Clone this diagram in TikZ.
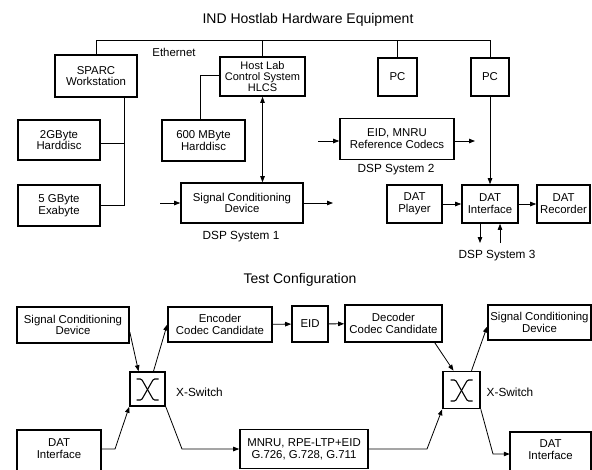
\documentclass[tikz,border=0pt]{standalone}
\usepackage{fontspec}
\setmainfont{Liberation Sans}
\usetikzlibrary{arrows.meta}
\begin{document}
\begin{tikzpicture}[x=1pt,y=-1pt,
  box/.style={draw, line width=1.6pt, inner sep=1pt, align=center, font=\fontsize{11.4}{11.8}\selectfont},
  plain/.style={inner sep=1pt, align=center, font=\fontsize{11.4}{11.8}\selectfont},
  boxline/.style={line width=1.6pt},
  conn/.style={line width=0.8pt},
  arr/.style={conn,-{Triangle[length=6pt,width=4.5pt]}},
  darr/.style={conn,{Triangle[length=6pt,width=4.5pt]}-{Triangle[length=6pt,width=4.5pt]}},
  lbl/.style={font=\fontsize{11.8}{13}\selectfont, inner sep=0pt},
  ttl/.style={font=\fontsize{14}{15}\selectfont, inner sep=0pt},
  swsym/.style={line width=1.1pt, rounded corners=1.2pt}]
\clip (0,0) rectangle (592,469);

% ---------------- top part ----------------
\node[ttl] (t1) at (308,20) {IND Hostlab Hardware Equipment};

\node[box, minimum width=82pt, minimum height=42pt] (sparc) at (96,76) {SPARC\\Workstation};
\node[box, minimum width=85pt, minimum height=39pt, font=\fontsize{11}{11}\selectfont] (hlcs) at (262.5,76.5) {Host Lab\\Control System\\HLCS};
\node[box, minimum width=39pt, minimum height=38pt] (pc1) at (397.5,77) {PC};
\node[box, minimum width=38pt, minimum height=38pt] (pc2) at (490,77) {PC};

\coordinate (e0) at (96,40);
\coordinate (e1) at (490,40);
\draw[conn] (sparc.north) -- (e0) -- (e1) -- (pc2.north);
\draw[conn] (hlcs.north) -- (hlcs.north |- e0);
\draw[conn] (pc1.north) -- (pc1.north |- e0);
\node[plain] (eth) at (174,52) {Ethernet};

\node[box, minimum width=82pt, minimum height=40pt] (hd2) at (59,140) {2GByte\\Harddisc};
\node[box, minimum width=82pt, minimum height=41pt] (exa) at (59,205.5) {5 GByte\\Exabyte};
\coordinate (sb) at (124,205.5);
\draw[conn] (sparc.south -| sb) -- (sb) -- (exa.east);
\draw[conn] ([yshift=-3pt]hd2.east) -- ([yshift=-3pt]hd2.east -| sb);

\node[box, minimum width=83pt, minimum height=41pt] (hd6) at (203.5,140.5) {600 MByte\\Harddisc};
\coordinate (hc) at (200,75);
\draw[conn] (hd6.north -| hc) -- (hc) -- (hc -| hlcs.west);

\node[box, minimum width=122pt, minimum height=40pt] (scd1) at (242,203) {Signal Conditioning\\Device};
\draw[darr] (hlcs.south) -- (hlcs.south |- scd1.north);
\coordinate (in1) at (160,203);
\coordinate (out1) at (333,203);
\draw[arr] (in1) -- (scd1.west);
\draw[arr] (scd1.east) -- (out1);
\node[lbl] (dsp1) at (241,237) {DSP System 1};

\node[box, minimum width=114pt, minimum height=41pt] (eid2) at (397,139) {EID, MNRU\\Reference Codecs};
\coordinate (in2) at (318,141);
\coordinate (out2) at (475,141);
\draw[arr] (in2) -- (in2 -| eid2.west);
\draw[arr] (out2 -| eid2.east) -- (out2);
\node[lbl] (dsp2) at (396,170) {DSP System 2};

\node[box, minimum width=55pt, minimum height=38pt] (dplay) at (414.5,204) {DAT\\Player};
\node[box, minimum width=56pt, minimum height=38pt] (dint) at (490,204) {DAT\\Interface};
\node[box, minimum width=53pt, minimum height=38pt] (drec) at (563.5,204) {DAT\\Recorder};
\draw[arr] (dplay) -- (dint);
\draw[arr] (dint) -- (drec);
\draw[arr] (pc2.south) -- (dint.north);
\coordinate (d3a) at (480,243);
\coordinate (d3b) at (500,243);
\draw[arr] (dint.south -| d3a) -- (d3a);
\draw[arr] (d3b) -- (dint.south -| d3b);
\node[lbl] (dsp3) at (497,256) {DSP System 3};

% ---------------- bottom part ----------------
\node[ttl] (t2) at (300,280) {Test Configuration};

\node[box, minimum width=112pt, minimum height=36pt] (scdL) at (73,325) {Signal Conditioning\\Device};
\node[box, minimum width=104pt, minimum height=35pt] (enc) at (220,324.5) {Encoder\\Codec Candidate};
\node[box, minimum width=36pt, minimum height=36pt] (eid) at (310,324) {EID};
\node[box, minimum width=97pt, minimum height=37pt] (dec) at (393.5,323.5) {Decoder\\Codec Candidate};
\node[box, minimum width=103pt, minimum height=35pt] (scdR) at (539.5,322.5) {Signal Conditioning\\Device};

\node[box, minimum width=35pt, minimum height=34pt] (swL) at (147.5,389) {};
\node[box, minimum width=37pt, minimum height=37pt] (swR) at (461.5,390) {};
\node[lbl] (xsL) at (199.5,392) {X-Switch};
\node[lbl] (xsR) at (510,392) {X-Switch};
\foreach \s in {swL,swR} {
  \begin{scope}[shift={(\s.center)}]
    \draw[swsym] (-11,-10) -- (-6,-10) -- (6,11) -- (11,11);
    \draw[swsym] (11,-10) -- (6,-10) -- (-6,11) -- (-11,11);
  \end{scope}
}

\node[plain, minimum width=84pt, minimum height=38pt] (datL) at (59,449) {DAT\\Interface};
\draw[boxline] ([yshift=-20pt]datL.south west) rectangle (datL.north east);
\node[box, minimum width=128pt, minimum height=39pt] (mnru) at (304,449) {MNRU, RPE-LTP+EID\\G.726, G.728, G.711};
\node[plain, minimum width=81pt, minimum height=36pt] (datR) at (550.5,450) {DAT\\Interface};
\draw[boxline] ([yshift=-20pt]datR.south west) rectangle (datR.north east);

\draw[arr] ([yshift=-7pt]scdL.east) -- ([xshift=-9pt]swL.north);
\draw[arr] ([xshift=6pt]swL.north) -- (enc.west);
\draw[arr] (enc) -- (eid);
\draw[arr] (eid) -- (dec);
\draw[arr] ([xshift=-8pt]dec.south east) -- ([xshift=-8pt]swR.north);
\draw[arr] ([xshift=10pt]swR.north) -- ([yshift=-4pt]scdR.west);

\coordinate (k1) at (115,449);
\coordinate (k2) at (182,449);
\coordinate (k3) at (427,449);
\coordinate (k4) at (493,454);
\draw[arr] (datL.east) -- (k1) -- (swL.south west);
\draw[arr] (swL.south east) -- (k2) -- (k2 -| mnru.west);
\draw[arr] (mnru.east) -- (k3) -- (swR.south west);
\draw[arr] (swR.south east) -- (k4) -- (k4 -| datR.west);
\end{tikzpicture}
\end{document}
